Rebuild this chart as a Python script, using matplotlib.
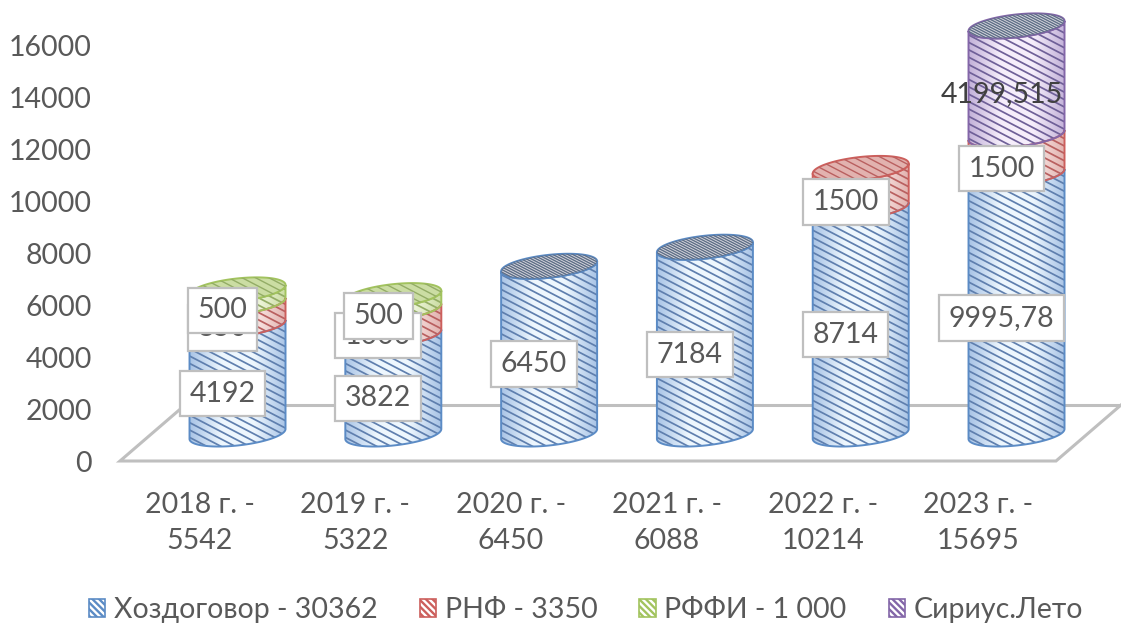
import numpy as np
import matplotlib
matplotlib.use('Agg')
import matplotlib.pyplot as plt
from matplotlib.patches import Polygon, Patch
from matplotlib.collections import LineCollection
from matplotlib.colors import LinearSegmentedColormap
from matplotlib.transforms import ScaledTranslation

plt.rcParams['font.family'] = ['Lato', 'Open Sans', 'DejaVu Sans']
plt.rcParams['hatch.linewidth'] = 1.7

years = ['2018 г. -\n5542', '2019 г. -\n5322', '2020 г. -\n6450',
         '2021 г. -\n6088', '2022 г. -\n10214', '2023 г. -\n15695']
khozdogovor = [4192, 3822, 6450, 7184, 8714, 9995.78]
rnf = [850, 1000, 0, 0, 1500, 1500]
rffi = [500, 500, 0, 0, 0, 0]
sirius = [0, 0, 0, 0, 0, 4199.515]
yticks = [0, 2000, 4000, 6000, 8000, 10000, 12000, 14000, 16000]

series_names = ['Хоздоговор - 30362', 'РНФ - 3350', 'РФФИ - 1 000', 'Сириус.Лето']
series_values = [khozdogovor, rnf, rffi, sirius]
edge_colors = ['#5B8BC5', '#CC5F5C', '#A2C35E', '#8366A8']
stripe_colors = ['#5F7FAE', '#B96060', '#93AC66', '#6F6098']
light_colors = ['#EEF7FE', '#FBEAE8', '#F4F9E4', '#F6EEFB']
mid_colors = ['#A9C4E6', '#E2B2AF', '#CBDDA3', '#C3B2D9']
cap_dense = [True, False, False, True]

W, H = 1121, 623
PX_X = 155.8      # pixels per category
PX_Y = 0.026      # pixels per unit
AX_LEFT = 100
Y0 = 461

fig = plt.figure(figsize=(W / 100, H / 100), dpi=100)
ax = fig.add_axes([AX_LEFT / W, 1 - Y0 / H, (W - AX_LEFT) / W, Y0 / H])
ax.set_xlim((AX_LEFT - 199.5) / PX_X, (W - 199.5) / PX_X)
ax.set_ylim(0, Y0 / PX_Y)

for s in ax.spines.values():
    s.set_visible(False)

# fake 3d floor
dx = 65 / PX_X
dy = 56 / PX_Y
fl, fr = (120 - 199.5) / PX_X, (1056 - 199.5) / PX_X
ax.plot([fl + dx, fl, fr, fr + dx], [dy, 0, 0, dy], color='#BFBFBF', lw=2.2, clip_on=False, zorder=1,
        solid_joinstyle='miter')
ax.plot([fl + dx, fr + dx], [dy, dy], color='#BFBFBF', lw=2.2, zorder=1)

SHIFT = 0.244     # cylinders sit behind the ticks
BASE = 27 / PX_Y
A = 48 / PX_X
B = 11.5 / PX_Y
TILT = 5 / PX_Y


def rim(cx, y, t):
    return cx + A * np.cos(t), y + B * np.sin(t) + TILT * np.cos(t)


def stripes(cx, y0, y1, step_px, slope=0.52):
    # diagonal lines over the box of the segment
    segs = []
    low = y0 - 2 * B - 2 * TILT
    high = y1 + 2 * B + 2 * TILT
    for y in np.arange(low, high + 2 * A * PX_X * slope / PX_Y, step_px / PX_Y):
        segs.append([(cx - A, y), (cx + A, y - 2 * A * PX_X * slope / PX_Y)])
    return segs


t_front = np.linspace(np.pi, 2 * np.pi, 60)
t_all = np.linspace(0, 2 * np.pi, 120)
grad = np.linspace(0, 1, 256).reshape(1, -1)

for i in range(len(years)):
    cx = i + SHIFT
    bottom = BASE
    top_idx = max(k for k, v in enumerate(series_values) if v[i] > 0)
    for k, vals in enumerate(series_values):
        v = vals[i]
        if v <= 0:
            continue
        x0, y0 = rim(cx, bottom, t_front)
        x1, y1 = rim(cx, bottom + v, t_front[::-1])
        xy = np.column_stack([np.r_[x0, x1], np.r_[y0, y1]])
        cmap = LinearSegmentedColormap.from_list('c', [mid_colors[k], light_colors[k], light_colors[k], mid_colors[k]])
        body = Polygon(xy, closed=True, facecolor='none', edgecolor=edge_colors[k], lw=1.4, zorder=3)
        ax.add_patch(body)
        img = ax.imshow(grad, cmap=cmap, extent=[cx - A, cx + A, y0.min() - 10, y1.max() + 10],
                        aspect='auto', zorder=2)
        img.set_clip_path(body)
        lc = LineCollection(stripes(cx, bottom, bottom + v, 7.4), colors=stripe_colors[k], linewidths=1.25, zorder=2.5)
        ax.add_collection(lc)
        lc.set_clip_path(body)
        if k == top_idx:
            xc, yc = rim(cx, bottom + v, t_all)
            cap = Polygon(np.column_stack([xc, yc]), closed=True, facecolor='#D9D9E0' if cap_dense[k] else mid_colors[k],
                          edgecolor=edge_colors[k], lw=1.4, zorder=3.2)
            ax.add_patch(cap)
            lc2 = LineCollection(stripes(cx, bottom + v - B, bottom + v + B, 2.6 if cap_dense[k] else 7),
                                 colors='#5E6E86' if cap_dense[k] else stripe_colors[k],
                                 linewidths=1.0, zorder=3.3)
            ax.add_collection(lc2)
            lc2.set_clip_path(cap)
        bottom += v

ax.set_xlim((AX_LEFT - 199.5) / PX_X, (W - 199.5) / PX_X)
ax.set_ylim(0, Y0 / PX_Y)

# data labels
LABEL_DX = SHIFT - 15 / PX_X
LABEL_DY = BASE - 14 / PX_Y
for i in range(len(years)):
    bottom = 0
    for k, vals in enumerate(series_values):
        v = vals[i]
        if v <= 0:
            continue
        txt = f'{v:g}'.replace('.', ',')
        if k == 0 and i == 5:
            txt = '9995,78'
        if k == 3:
            txt = '4199,515'
        box = None if k == 3 else dict(boxstyle='square,pad=0.34', facecolor='white', edgecolor='#BFBFBF', lw=1.6)
        ax.text(i + LABEL_DX, bottom + v / 2 + LABEL_DY, txt, ha='center', va='center', fontsize=20.5,
                color='#404040' if k == 3 else '#595959', bbox=box, zorder=5 + k)
        bottom += v

ax.set_yticks(yticks)
ax.set_xticks(range(len(years)))
ax.set_xticklabels(years, linespacing=1.5)
ax.tick_params(axis='both', length=0, labelsize=20.5, labelcolor='#595959')
ax.tick_params(axis='y', pad=6)
ax.tick_params(axis='x', pad=22)
nudge = ScaledTranslation(0, -0.7 / 72, fig.dpi_scale_trans)
for lab in ax.get_yticklabels():
    lab.set_transform(lab.get_transform() + nudge)

handles = [Patch(facecolor='white', edgecolor=edge_colors[k], hatch='\\\\\\\\\\', lw=1.2) for k in range(4)]
fig.legend(handles, series_names, loc='center', bbox_to_anchor=(586 / W, 1 - 610 / H), ncol=4, frameon=False,
           fontsize=20.5, labelcolor='#595959', handlelength=0.58, handleheight=0.58, handletextpad=0.3,
           columnspacing=1.48, borderpad=0)

fig.savefig('out.png', dpi=100)
